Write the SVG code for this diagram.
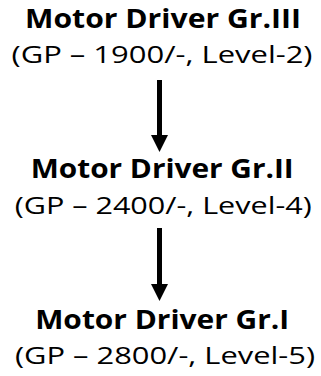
<svg xmlns="http://www.w3.org/2000/svg" width="321" height="376" viewBox="0 0 321 376">
  <defs>
    <style>
      .title { font-family: "Open Sans", "Noto Sans", "Liberation Sans", sans-serif; font-weight: bold; font-size: 27px; fill: #000; text-anchor: middle; }
      .sub { font-family: "Open Sans", "Noto Sans", "Liberation Sans", sans-serif; font-size: 23.5px; fill: #000; text-anchor: middle; }
      .conn { stroke: #000; stroke-width: 5; fill: none; }
    </style>
    <marker id="arrow" markerUnits="userSpaceOnUse" markerWidth="18" markerHeight="18" viewBox="0 0 18 18" refX="0" refY="8.5" orient="auto">
      <path d="M0,0 L17,8.5 L0,17 Z" fill="#000"/>
    </marker>
  </defs>
  <rect width="321" height="376" fill="#fff"/>
  <g id="node-gr3">
    <text class="title" x="163" y="28" textLength="276" lengthAdjust="spacingAndGlyphs">Motor Driver Gr.III</text>
    <text class="sub" x="162" y="63" textLength="301" lengthAdjust="spacingAndGlyphs">(GP – 1900/-, Level-2)</text>
  </g>
  <g id="node-gr2">
    <text class="title" x="162.2" y="178" textLength="263" lengthAdjust="spacingAndGlyphs">Motor Driver Gr.II</text>
    <text class="sub" x="163.2" y="214" textLength="297" lengthAdjust="spacingAndGlyphs">(GP – 2400/-, Level-4)</text>
  </g>
  <g id="node-gr1">
    <text class="title" x="162.2" y="329" textLength="254" lengthAdjust="spacingAndGlyphs">Motor Driver Gr.I</text>
    <text class="sub" x="165" y="364" textLength="300" lengthAdjust="spacingAndGlyphs">(GP – 2800/-, Level-5)</text>
  </g>
  <g id="connectors">
    <line class="conn" x1="159.5" y1="80" x2="159.5" y2="135" marker-end="url(#arrow)"/>
    <line class="conn" x1="159.5" y1="228" x2="159.5" y2="284" marker-end="url(#arrow)"/>
  </g>
</svg>
